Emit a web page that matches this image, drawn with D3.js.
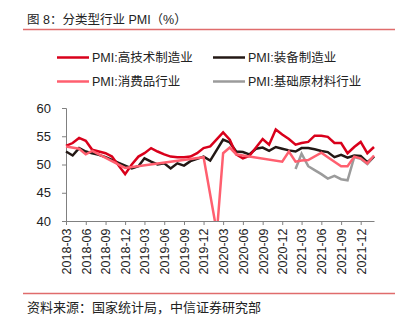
<!DOCTYPE html>
<html><head><meta charset="utf-8">
<script src="https://cdn.jsdelivr.net/npm/d3@7"></script>
<style>
html,body{margin:0;padding:0;background:#fff;}
svg{display:block;font-family:"Liberation Sans","Noto Sans CJK SC",Arial,sans-serif;}
</style></head>
<body>
<svg id="chart" width="401" height="321"></svg>
<script>
const startMonth = "2018-03";
const monthCount = 48;
const tickLabels = ["2018-03","2018-06","2018-09","2018-12","2019-03","2019-06","2019-09","2019-12","2020-03","2020-06","2020-09","2020-12","2021-03","2021-06","2021-09","2021-12"];
const yTicks = [40,45,50,55,60];
const seriesNames = ["PMI:高技术制造业","PMI:装备制造业","PMI:消费品行业","PMI:基础原材料行业"];
const hiTech = [53.3,53.8,54.7,54.2,52.6,52.3,52.0,51.4,49.8,48.3,50.0,51.4,52.0,52.9,52.3,51.8,51.4,51.3,51.3,51.4,52.0,52.9,53.2,null,55.7,54.4,51.8,51.1,51.5,53.0,54.5,53.5,56.2,55.3,54.5,53.5,53.8,54.0,55.1,55.1,54.9,53.8,53.8,52.0,53.1,54.0,52.0,53.1];
const equipment = [52.3,51.6,52.9,52.3,52.0,51.7,51.3,50.8,50.3,49.8,49.3,49.7,51.1,50.5,50.0,50.2,49.3,50.2,49.8,50.6,51.0,51.4,50.7,null,54.4,53.9,52.3,52.2,51.8,52.8,53.0,52.4,53.1,52.8,52.5,52.3,52.9,52.9,52.7,52.4,52.2,51.3,51.7,51.2,51.6,51.5,50.4,51.4];
const consumer = [53.2,null,52.8,51.8,52.4,null,null,null,null,49.4,null,null,null,null,null,null,null,null,null,null,null,51.3,null,38.0,52.0,53.0,51.8,51.6,null,null,null,null,null,50.5,52.3,50.5,50.7,50.8,null,52.1,51.3,50.5,49.7,49.7,51.4,51.1,50.2,51.6];
const rawMaterial = [null,null,null,null,null,null,null,null,null,null,null,null,null,null,null,null,null,null,null,null,null,null,null,null,null,null,null,null,null,null,null,null,null,null,null,49.2,51.9,49.7,49.0,48.3,47.5,48.0,47.4,47.2,51.3,51.0,50.1,51.4];
const colors = ["#d9001b","#231815","#ff5f6f","#9b9b9b"];

const svg = d3.select("#chart");
const parse = d3.timeParse("%Y-%m");
const t0 = parse(startMonth);
const dates = d3.range(monthCount).map(i => d3.timeMonth.offset(t0, i));

const x = d3.scaleTime().domain([dates[0], dates[monthCount-1]]).range([66, 374]);
const y = d3.scaleLinear().domain([40,60]).range([221,108]);

// title
svg.append("text").attr("x",27).attr("y",24).attr("font-size","12.5px").attr("fill","#222")
  .text("图 8：分类型行业 PMI（%）");
svg.append("line").attr("x1",23).attr("x2",395).attr("y1",29.5).attr("y2",29.5)
  .attr("stroke","#e06c6c").attr("stroke-width",1.3);
svg.append("line").attr("x1",23).attr("x2",395).attr("y1",293.5).attr("y2",293.5)
  .attr("stroke","#e06c6c").attr("stroke-width",1.3);
svg.append("text").attr("x",27).attr("y",311.5).attr("font-size","13px").attr("fill","#222")
  .text("资料来源：国家统计局，中信证券研究部");

// legend
const legPos = [[57,57.5],[213,57.5],[57,81.5],[213,81.5]];
seriesNames.forEach((n,i)=>{
  const g = svg.append("g").attr("transform",`translate(${legPos[i][0]},${legPos[i][1]})`);
  g.append("line").attr("x1",0).attr("x2",32).attr("stroke",colors[i]).attr("stroke-width",2.5);
  g.append("text").attr("x",35).attr("dy","0.36em").attr("font-size","12.5px").attr("fill","#222").text(n);
});

// axes
const yAxis = d3.axisLeft(y).tickValues(yTicks).tickSize(4).tickPadding(11).tickFormat(d3.format("d"));
const gy = svg.append("g").attr("transform","translate(66,0)").call(yAxis);
gy.select(".domain").attr("stroke","#808080");
gy.selectAll(".tick line").attr("stroke","#808080");
gy.selectAll("text").attr("font-size","13px").attr("fill","#222").attr("font-family","Liberation Sans, Arial, sans-serif");

const tickDates = tickLabels.map(parse);
const xAxis = d3.axisBottom(x).tickValues(tickDates).tickSize(4).tickSizeOuter(0).tickFormat(d3.timeFormat("%Y-%m"));
const gx = svg.append("g").attr("transform","translate(0,221)").call(xAxis);
gx.select(".domain").attr("stroke","#808080");
gx.selectAll(".tick line").attr("stroke","#808080");
gx.selectAll("text").attr("font-size","12.5px").attr("fill","#222")
  .attr("font-family","Liberation Sans, Arial, sans-serif")
  .attr("text-anchor","end").attr("y",0).attr("dy","0.35em")
  .attr("transform","translate(0,7.5) rotate(-90)").attr("x",0);

// clip
svg.append("clipPath").attr("id","clip").append("rect")
  .attr("x",60).attr("y",100).attr("width",330).attr("height",121);

const line = d3.line().x(d=>x(d.date)).y(d=>y(d.v));
const allSeries = [hiTech, equipment, consumer, rawMaterial];
const order = [3,1,0,2];
const plot = svg.append("g").attr("clip-path","url(#clip)");
order.forEach(si=>{
  const pts = allSeries[si].map((v,i)=>({date:dates[i], v})).filter(d=>d.v!=null);
  plot.append("path").datum(pts).attr("d",line).attr("fill","none")
    .attr("stroke",colors[si]).attr("stroke-width",2.5).attr("stroke-linejoin","miter");
});
</script>
</body></html>
